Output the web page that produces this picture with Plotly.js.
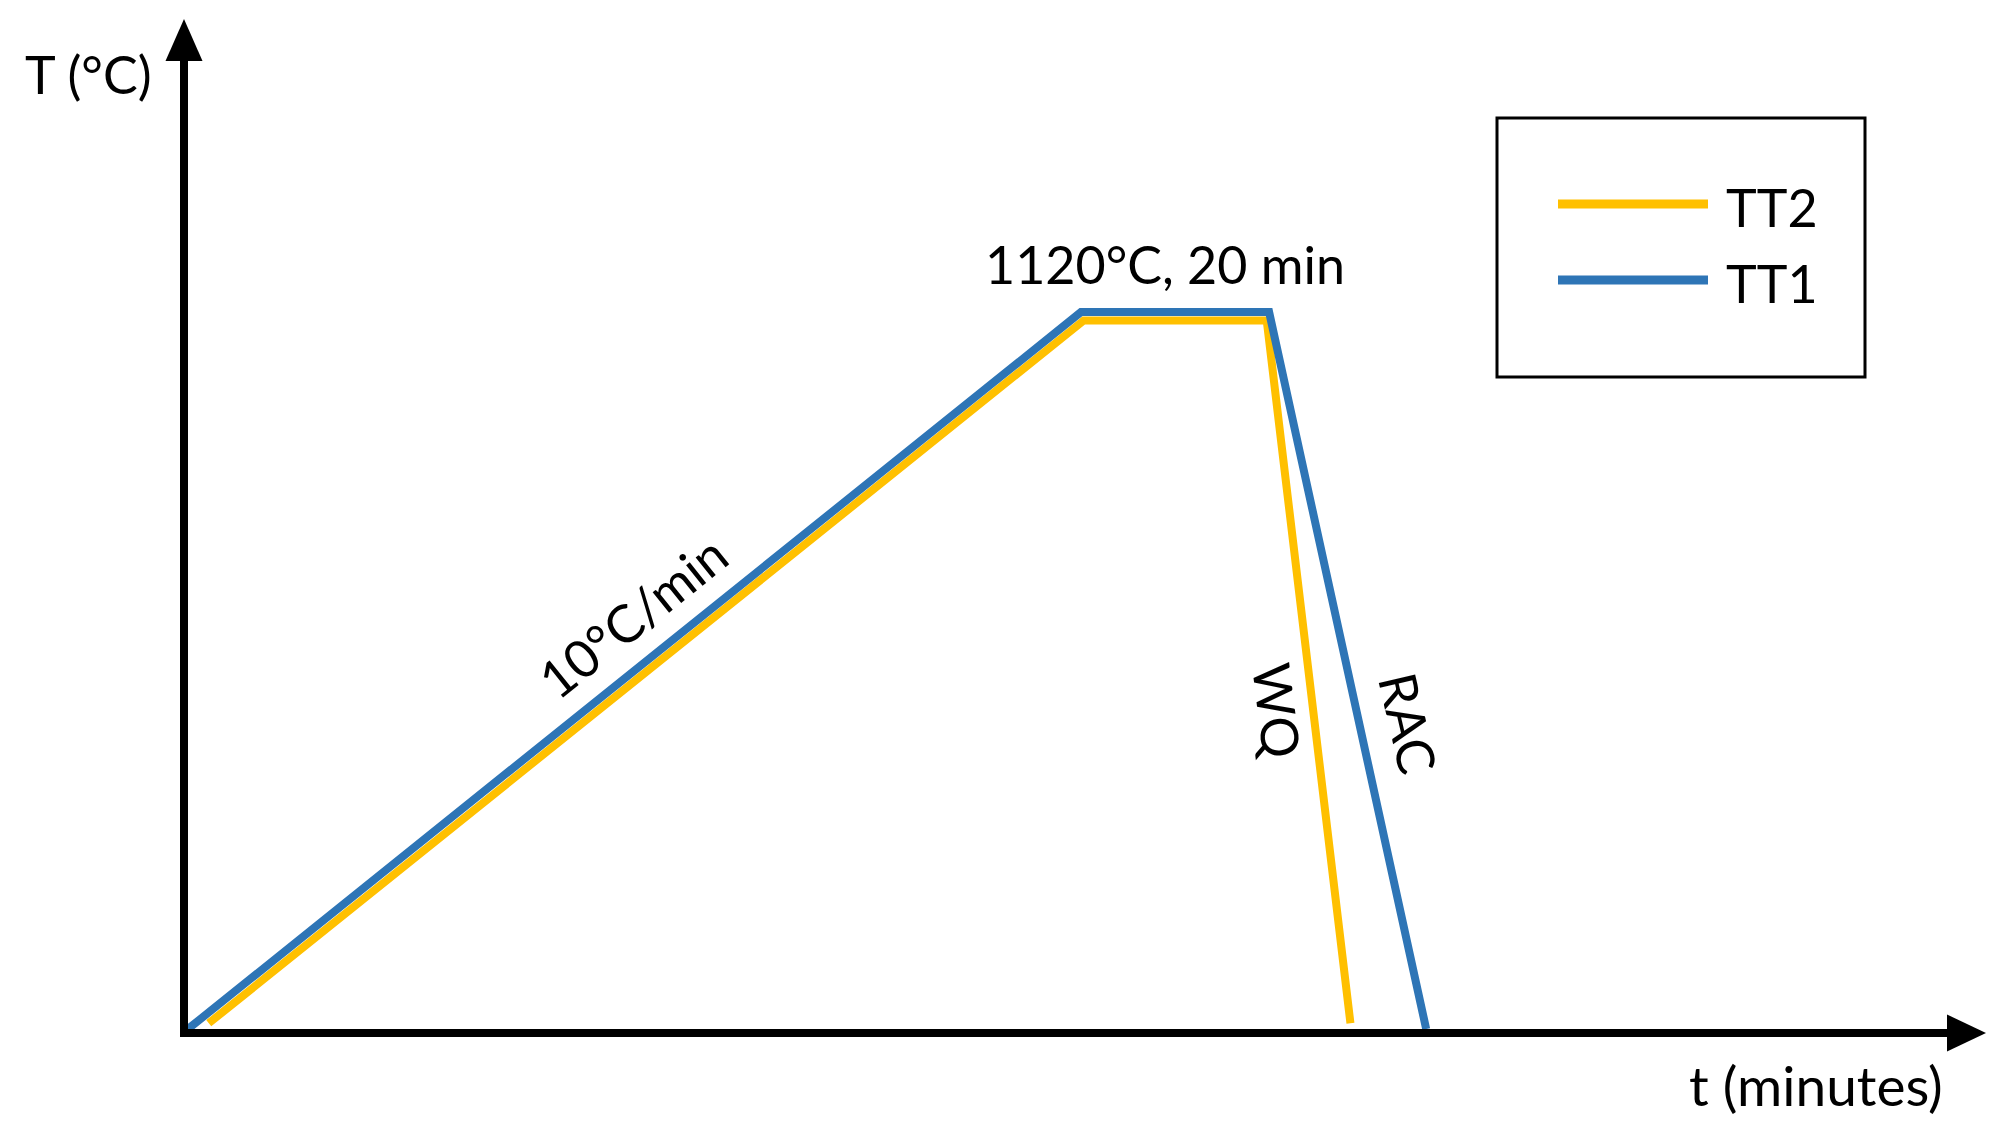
<!DOCTYPE html>
<html lang="en">
<head>
    <meta charset="UTF-8">
    <title>Heat treatment TT1 / TT2</title>
    <script src="https://cdn.plot.ly/plotly-3.0.1.min.js"></script>
    <style>
        body { margin: 0; padding: 0; background: #fff; }
        #chart { width: 2012px; height: 1146px; }
    </style>
</head>
<body>
<div id="chart"></div>
<script>
// schematic cycle: heat at 10 C/min to 1120 C, hold 20 min, then cool
const seriesNames = ['TT2', 'TT1'];
const seriesColors = ['#FFC000', '#2E75B6'];
const tt2Time = [2.6, 112.35, 135.3, 145.8];
const tt2Temp = [9, 1107, 1107, 9];
const tt1Time = [0, 112, 135.6, 155.3];
const tt1Temp = [0, 1120, 1120, 0];
const xRange = [0, 221];
const yRange = [0, 1517];

const FONT = 'Lato, "Open Sans", sans-serif';
const W = 2012, H = 1146;
const margin = { l: 188, r: 62, t: 58, b: 117 };
const plotW = W - margin.l - margin.r;
const plotH = H - margin.t - margin.b;

// page pixel -> paper coords
function px(x) { return (x - margin.l) / plotW; }
function py(y) { return (H - margin.b - y) / plotH; }

const traces = [
    { x: tt2Time, y: tt2Temp, name: seriesNames[0], color: seriesColors[0] },
    { x: tt1Time, y: tt1Temp, name: seriesNames[1], color: seriesColors[1] }
].map(s => ({
    x: s.x,
    y: s.y,
    name: s.name,
    type: 'scatter',
    mode: 'lines',
    line: { color: s.color, width: 8 },
    hoverinfo: 'skip'
}));

function label(text, x, y, angle, ref, size) {
    return {
        text: text, x: x, y: y,
        xref: ref || 'x', yref: ref || 'y',
        showarrow: false, textangle: angle || 0,
        xanchor: 'center', yanchor: 'middle',
        font: { family: FONT, size: size || 52, color: '#000' }
    };
}

const annotations = [
    label('T (°C)', px(88), py(74), 0, 'paper'),
    label('t (minutes)', px(1816), py(1085), 0, 'paper', 55),
    label('1120°C, 20 min', 122.5, 1195),
    label('10°C/min', 55.8, 645, -38.7),
    label('WQ', 136.7, 497, 83),
    label('RAC', 153.1, 478, 77)
];

// legend drawn by hand so the sample lines are long like the original
const legendRows = [204, 280];
const shapes = [
    { type: 'rect', xref: 'paper', yref: 'paper',
      x0: px(1497), x1: px(1865), y0: py(377), y1: py(118),
      line: { color: '#000', width: 3 }, fillcolor: 'rgba(0,0,0,0)' },
    // arrow heads on the axes
    { type: 'path', xref: 'paper', yref: 'paper',
      xsizemode: 'pixel', ysizemode: 'pixel', xanchor: 1, yanchor: 0,
      path: 'M -3,14.5 L 36,-4 L -3,-22.5 Z',
      fillcolor: '#000', line: { width: 0 } },
    { type: 'path', xref: 'paper', yref: 'paper',
      xsizemode: 'pixel', ysizemode: 'pixel', xanchor: 0, yanchor: 1,
      path: 'M -22.5,-3 L -4,39 L 14.5,-3 Z',
      fillcolor: '#000', line: { width: 0 } }
];
seriesNames.forEach((name, i) => {
    shapes.push({ type: 'line', xref: 'paper', yref: 'paper',
        x0: px(1558), x1: px(1708), y0: py(legendRows[i]), y1: py(legendRows[i]),
        line: { color: seriesColors[i], width: 9 } });
    annotations.push({
        text: name, xref: 'paper', yref: 'paper',
        x: px(1724), y: py(legendRows[i] + 3),
        xanchor: 'left', yanchor: 'middle', showarrow: false,
        font: { family: FONT, size: 52, color: '#000' }
    });
});

const axisBase = {
    showline: true, linecolor: '#000', linewidth: 8,
    showgrid: false, zeroline: false, showticklabels: false,
    ticks: '', fixedrange: true
};

const layout = {
    width: W, height: H,
    margin: margin,
    paper_bgcolor: '#fff',
    plot_bgcolor: '#fff',
    showlegend: false,
    hovermode: false,
    xaxis: Object.assign({ range: xRange }, axisBase),
    yaxis: Object.assign({ range: yRange }, axisBase),
    annotations: annotations,
    shapes: shapes
};

Plotly.newPlot('chart', traces, layout, { staticPlot: true, displayModeBar: false });
</script>
</body>
</html>
